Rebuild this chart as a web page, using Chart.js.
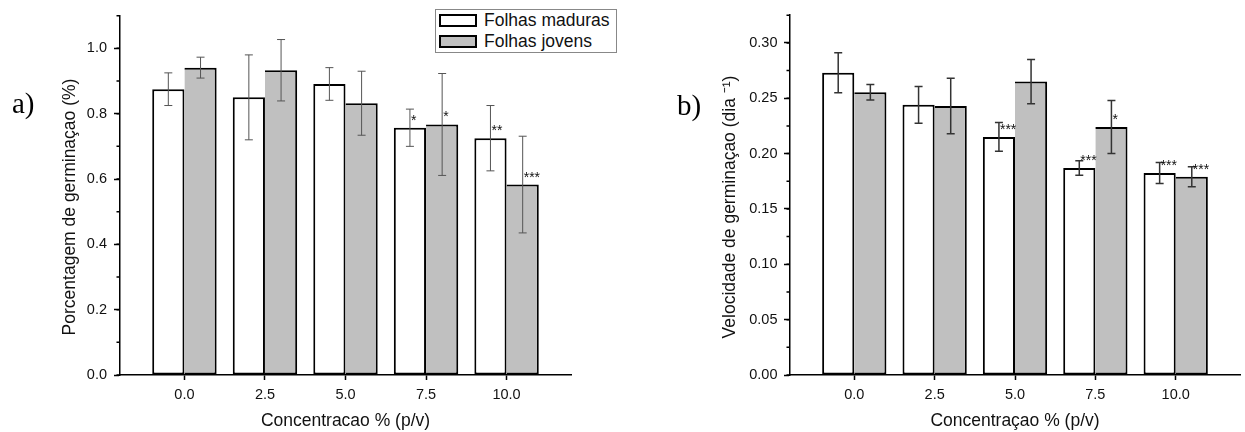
<!DOCTYPE html>
<html>
<head>
<meta charset="utf-8">
<title>Germinação</title>
<script src="https://cdn.jsdelivr.net/npm/chart.js@4.4.0/dist/chart.umd.min.js"></script>
<style>
  body { margin: 0; background: #fff; }
  #wrap { position: relative; width: 1245px; height: 432px; overflow: hidden; }
  canvas { position: absolute; top: 0; }
  #chartA { left: 0; }
  #chartB { left: 622px; }
  #legend {
    position: absolute; left: 435px; top: 9px; width: 182px; height: 44px;
    border: 1px solid #888; box-sizing: border-box; background: #fff;
    font-family: "Liberation Sans", Arial, sans-serif; font-size: 17.5px; color: #111;
  }
  .row { display: flex; align-items: center; height: 21px; padding-left: 3px; }
  .swatch { width: 38px; height: 13px; border: 2px solid #000; box-sizing: border-box; margin-right: 7px; }
</style>
</head>
<body>
<div id="wrap">
  <canvas id="chartA" width="622" height="432"></canvas>
  <canvas id="chartB" width="623" height="432"></canvas>
  <div id="legend"></div>
</div>
<script>
// categories and shared ticks
const concentrations = [0, 2.5, 5, 7.5, 10];
const xTicks = [0, 2.5, 5, 7.5, 10];
const seriesNames = ['Folhas maduras', 'Folhas jovens'];
const seriesColors = ['#ffffff', '#c0c0c0'];

// a) porcentagem de germinacao
const germMaduras = [0.875, 0.850, 0.891, 0.757, 0.725];
const germMadurasErr = [0.050, 0.130, 0.050, 0.057, 0.100];
const germMadurasSig = ['', '', '', '*', '**'];
const germJovens = [0.941, 0.933, 0.832, 0.767, 0.583];
const germJovensErr = [0.032, 0.094, 0.098, 0.156, 0.148];
const germJovensSig = ['', '', '', '*', '***'];
const germTicks = [0, 0.2, 0.4, 0.6, 0.8, 1.0];

// b) velocidade de germinacao
const velMaduras = [0.273, 0.244, 0.215, 0.187, 0.1825];
const velMadurasErr = [0.018, 0.0165, 0.013, 0.0065, 0.0095];
const velMadurasSig = ['', '', '***', '***', '***'];
const velJovens = [0.2555, 0.243, 0.265, 0.224, 0.179];
const velJovensErr = [0.007, 0.025, 0.020, 0.024, 0.009];
const velJovensSig = ['', '', '', '*', '***'];
const velTicks = [0, 0.05, 0.10, 0.15, 0.20, 0.25, 0.30];

Chart.defaults.font.family = '"Liberation Sans", Arial, sans-serif';

// error bars + significance stars on top of each bar
const errorBarsPlugin = {
  id: 'errorBars',
  afterDatasetsDraw(chart, args, opts) {
    const ctx = chart.ctx;
    const yScale = chart.scales.y;
    chart.data.datasets.forEach((ds, i) => {
      const meta = chart.getDatasetMeta(i);
      meta.data.forEach((bar, j) => {
        const v = ds.data[j].y;
        const e = ds.errors[j];
        const top = yScale.getPixelForValue(v + e);
        const bottom = yScale.getPixelForValue(v - e);
        ctx.save();
        ctx.strokeStyle = opts.color;
        ctx.lineWidth = opts.width;
        ctx.beginPath();
        ctx.moveTo(bar.x, top);
        ctx.lineTo(bar.x, bottom);
        ctx.moveTo(bar.x - opts.cap, top);
        ctx.lineTo(bar.x + opts.cap, top);
        ctx.moveTo(bar.x - opts.cap, bottom);
        ctx.lineTo(bar.x + opts.cap, bottom);
        ctx.stroke();
        const sig = ds.marks[j];
        if (sig) {
          ctx.fillStyle = '#111';
          ctx.font = '14px "Liberation Sans", Arial, sans-serif';
          ctx.textAlign = 'left';
          ctx.textBaseline = 'alphabetic';
          ctx.fillText(sig, bar.x + 1, bar.y - 3);
        }
        ctx.restore();
      });
    });
  }
};

// short minor ticks between the major ones on the y axis
const minorTicksPlugin = {
  id: 'minorTicks',
  afterDraw(chart, args, opts) {
    const ctx = chart.ctx;
    const y = chart.scales.y;
    const step = (y.ticks[1].value - y.ticks[0].value) / 2;
    const n = Math.round((y.max - y.min) / step);
    ctx.save();
    ctx.strokeStyle = '#000';
    ctx.lineWidth = 1.5;
    ctx.beginPath();
    for (let k = 0; k <= n; k++) {
      const py = y.getPixelForValue(y.min + k * step);
      ctx.moveTo(y.right - opts.length, py);
      ctx.lineTo(y.right, py);
    }
    ctx.stroke();
    ctx.restore();
  }
};

// panel letter and the rotated y title (Origin centres it a bit lower than the axis middle)
const panelLabelPlugin = {
  id: 'panelLabel',
  afterDraw(chart, args, opts) {
    const ctx = chart.ctx;
    ctx.save();
    ctx.font = '29px "Liberation Serif", "Times New Roman", serif';
    ctx.fillStyle = '#000';
    ctx.textAlign = 'left';
    ctx.textBaseline = 'alphabetic';
    ctx.fillText(opts.text, opts.x, opts.y);

    ctx.font = '17.5px "Liberation Sans", Arial, sans-serif';
    ctx.fillStyle = '#111';
    ctx.textAlign = 'center';
    ctx.textBaseline = 'middle';
    ctx.translate(opts.titleX, opts.titleY);
    ctx.rotate(-Math.PI / 2);
    ctx.fillText(opts.yTitle, 0, 0);
    ctx.restore();
  }
};

function toPoints(values) {
  return concentrations.map((c, i) => ({ x: c, y: values[i] }));
}

function makeChart(canvasId, cfg) {
  const tickFont = { size: 14.5 };
  const titleFont = { size: 17.5, lineHeight: 1.2 };
  const barStyle = {
    borderColor: '#000',
    borderWidth: 2,
    barPercentage: 1,
    categoryPercentage: 0.8
  };
  return new Chart(document.getElementById(canvasId), {
    type: 'bar',
    data: {
      datasets: [
        Object.assign({ label: seriesNames[0], data: toPoints(cfg.maduras), errors: cfg.madurasErr,
          marks: cfg.madurasSig, backgroundColor: seriesColors[0], borderSkipped: false }, barStyle),
        // grey bar shares the white bar's right edge, so skip its own left border
        Object.assign({ label: seriesNames[1], data: toPoints(cfg.jovens), errors: cfg.jovensErr,
          marks: cfg.jovensSig, backgroundColor: seriesColors[1], borderSkipped: 'left' }, barStyle)
      ]
    },
    plugins: [errorBarsPlugin, minorTicksPlugin, panelLabelPlugin],
    options: {
      responsive: false,
      animation: false,
      devicePixelRatio: 1,
      layout: { padding: { left: 0, right: cfg.padRight, top: 14, bottom: 0 } },
      plugins: {
        legend: { display: false },
        tooltip: { enabled: false },
        errorBars: { color: cfg.errColor, width: cfg.errWidth, cap: 4 },
        minorTicks: { length: 3.5 },
        panelLabel: cfg.panel
      },
      scales: {
        x: {
          type: 'linear',
          min: -2,
          max: 12,
          offset: false,
          afterBuildTicks: axis => { axis.ticks = xTicks.map(v => ({ value: v })); },
          afterFit: axis => { axis.height = 57; },
          grid: { offset: false, drawOnChartArea: false, drawTicks: true, tickLength: 5, tickColor: '#000', tickWidth: 1.5 },
          border: { color: '#000', width: 1.5 },
          ticks: { padding: 6, color: '#111', font: tickFont, maxRotation: 0, autoSkip: false,
            callback: v => v.toFixed(1) },
          title: { display: true, text: cfg.xTitle, color: '#111', font: titleFont, padding: { top: 0, bottom: 0.5 } }
        },
        y: {
          min: 0,
          max: cfg.yMax,
          afterBuildTicks: axis => { axis.ticks = cfg.yTicks.map(v => ({ value: v })); },
          afterFit: axis => { axis.width = cfg.yWidth; },
          grid: { drawOnChartArea: false, drawTicks: true, tickLength: 6, tickColor: '#000', tickWidth: 1.5 },
          border: { color: '#000', width: 1.5 },
          ticks: { padding: cfg.yTickPad, color: '#111', font: tickFont, autoSkip: false,
            callback: v => v.toFixed(cfg.decimals) },
          title: { display: false }
        }
      }
    }
  });
}

makeChart('chartA', {
  maduras: germMaduras, madurasErr: germMadurasErr, madurasSig: germMadurasSig,
  jovens: germJovens, jovensErr: germJovensErr, jovensSig: germJovensSig,
  yTicks: germTicks, yMax: 1.1, decimals: 1,
  yWidth: 120, padRight: 51, yTickPad: 7,
  errColor: '#555', errWidth: 1,
  xTitle: 'Concentracao % (p/v)',
  panel: { text: 'a)', x: 12, y: 113, yTitle: 'Porcentagem de germinaçao (%)', titleX: 70, titleY: 207 }
});

makeChart('chartB', {
  maduras: velMaduras, madurasErr: velMadurasErr, madurasSig: velMadurasSig,
  jovens: velJovens, jovensErr: velJovensErr, jovensSig: velJovensSig,
  yTicks: velTicks, yMax: 0.325, decimals: 2,
  yWidth: 168, padRight: 5, yTickPad: 6.5,
  errColor: '#333', errWidth: 1.5,
  xTitle: 'Concentraçao % (p/v)',
  panel: { text: 'b)', x: 55, y: 115, yTitle: 'Velocidade de germinaçao (dia ⁻¹)', titleX: 108, titleY: 207 }
});

// html legend built from the series names and colours
const legendDiv = document.getElementById('legend');
seriesNames.forEach((name, i) => {
  const row = document.createElement('div');
  row.className = 'row';
  const swatch = document.createElement('span');
  swatch.className = 'swatch';
  swatch.style.background = seriesColors[i];
  const label = document.createElement('span');
  label.textContent = name;
  row.append(swatch, label);
  legendDiv.appendChild(row);
});
</script>
</body>
</html>
